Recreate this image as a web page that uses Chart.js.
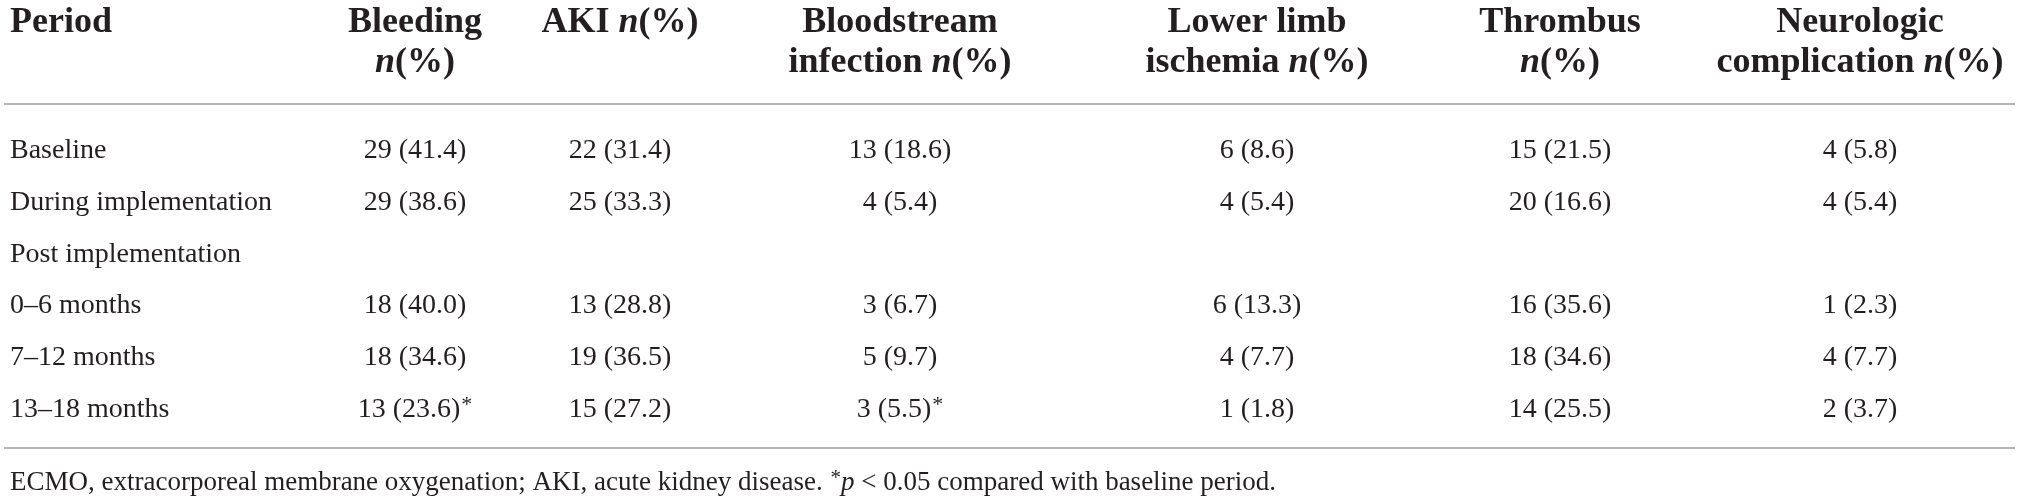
<!DOCTYPE html>
<html>
<head>
<meta charset="utf-8">
<script src="https://cdn.jsdelivr.net/npm/chart.js@4.4.1/dist/chart.umd.min.js"></script>
<style>
  html, body { margin: 0; padding: 0; background: #ffffff; }
  #wrap { width: 2019px; height: 502px; }
</style>
</head>
<body>
<div id="wrap"><canvas id="c" width="2019" height="502"></canvas></div>
<script>
// ---------- DATA ----------
const periods = ['Baseline', 'During implementation', 'Post implementation', '0–6 months', '7–12 months', '13–18 months'];
const columnTitles = [
  [[{t: 'Period'}]],
  [[{t: 'Bleeding'}], [{t: 'n', i: true}, {t: '(%)'}]],
  [[{t: 'AKI '}, {t: 'n', i: true}, {t: '(%)'}]],
  [[{t: 'Bloodstream'}], [{t: 'infection '}, {t: 'n', i: true}, {t: '(%)'}]],
  [[{t: 'Lower limb'}], [{t: 'ischemia '}, {t: 'n', i: true}, {t: '(%)'}]],
  [[{t: 'Thrombus'}], [{t: 'n', i: true}, {t: '(%)'}]],
  [[{t: 'Neurologic'}], [{t: 'complication '}, {t: 'n', i: true}, {t: '(%)'}]]
];
const bleedingN   = [29, 29, null, 18, 18, 13];
const bleedingPct = [41.4, 38.6, null, 40.0, 34.6, 23.6];
const bleedingSig = [false, false, false, false, false, true];
const akiN        = [22, 25, null, 13, 19, 15];
const akiPct      = [31.4, 33.3, null, 28.8, 36.5, 27.2];
const akiSig      = [false, false, false, false, false, false];
const bsiN        = [13, 4, null, 3, 5, 3];
const bsiPct      = [18.6, 5.4, null, 6.7, 9.7, 5.5];
const bsiSig      = [false, false, false, false, false, true];
const limbN       = [6, 4, null, 6, 4, 1];
const limbPct     = [8.6, 5.4, null, 13.3, 7.7, 1.8];
const limbSig     = [false, false, false, false, false, false];
const thrombusN   = [15, 20, null, 16, 18, 14];
const thrombusPct = [21.5, 16.6, null, 35.6, 34.6, 25.5];
const thrombusSig = [false, false, false, false, false, false];
const neuroN      = [4, 4, null, 1, 4, 2];
const neuroPct    = [5.8, 5.4, null, 2.3, 7.7, 3.7];
const neuroSig    = [false, false, false, false, false, false];
const footnoteRuns = [
  {t: 'ECMO, extracorporeal membrane oxygenation; AKI, acute kidney disease. '},
  {t: '*', sup: true}, {t: 'p', i: true},
  {t: ' < 0.05 compared with baseline period.'}
];

// ---------- LAYOUT / STYLE ----------
const W = 2019, H = 502;
const COL_X = [10, 415, 620, 900, 1257, 1560, 1860];   // column anchors (table units = px)
const TEXT = '#231f20';
const RULE = '#b5b5b5';
const SERIF = '"Liberation Serif", "DejaVu Serif", serif';
const HEAD_SIZE = 36, BODY_SIZE = 28, FOOT_SIZE = 27;

const valueCols = [
  [bleedingN, bleedingPct, bleedingSig],
  [akiN, akiPct, akiSig],
  [bsiN, bsiPct, bsiSig],
  [limbN, limbPct, limbSig],
  [thrombusN, thrombusPct, thrombusSig],
  [neuroN, neuroPct, neuroSig]
];

function fontFor(run, size, bold) {
  return (run.i ? 'italic ' : '') + (bold ? 'bold ' : '') + size + 'px ' + SERIF;
}
function drawRuns(ctx, runs, x, y, align, size, bold) {
  const supSize = Math.round(size * 0.78);
  let total = 0;
  const widths = runs.map(r => {
    ctx.font = fontFor(r, r.sup ? supSize : size, bold);
    const w = ctx.measureText(r.t).width + (r.sup ? 1 : 0);
    total += w;
    return w;
  });
  let cx = align === 'center' ? x - total / 2 : x;
  ctx.textAlign = 'left';
  ctx.textBaseline = 'alphabetic';
  runs.forEach((r, k) => {
    ctx.font = fontFor(r, r.sup ? supSize : size, bold);
    ctx.fillText(r.t, cx + (r.sup ? 1 : 0), r.sup ? y - size * 0.22 : y);
    cx += widths[k];
  });
}

// datasets: one per column, a point for each filled cell
const datasets = [];
datasets.push({
  label: 'Period', kind: 'period',
  data: periods.map(p => ({x: COL_X[0], y: p, runs: [{t: p}]}))
});
valueCols.forEach((col, c) => {
  const [n, pct, sig] = col;
  const pts = [];
  periods.forEach((p, r) => {
    if (n[r] === null) return;
    const runs = [{t: n[r] + ' (' + pct[r].toFixed(1) + ')'}];
    if (sig[r]) runs.push({t: '*', sup: true});
    pts.push({x: COL_X[c + 1], y: p, runs});
  });
  datasets.push({label: 'col' + c, kind: 'value', data: pts});
});

const tablePlugin = {
  id: 'tableText',
  afterDatasetsDraw(chart) {
    const ctx = chart.ctx;
    const area = chart.chartArea;
    const xs = chart.scales.x;
    ctx.save();
    ctx.fillStyle = TEXT;
    // header
    columnTitles.forEach((lines, c) => {
      const px = xs.getPixelForValue(COL_X[c]);
      lines.forEach((runs, li) => {
        drawRuns(ctx, runs, px, area.top - 91 + li * 40, c === 0 ? 'left' : 'center', HEAD_SIZE, true);
      });
    });
    // rules
    ctx.strokeStyle = RULE;
    ctx.lineWidth = 2;
    [area.top - 19, area.bottom + 14].forEach(yy => {
      ctx.beginPath();
      ctx.moveTo(area.left + 4, yy);
      ctx.lineTo(area.right - 4, yy);
      ctx.stroke();
    });
    // body cells
    chart.data.datasets.forEach((ds, di) => {
      const meta = chart.getDatasetMeta(di);
      meta.data.forEach((el, k) => {
        const cell = ds.data[k];
        drawRuns(ctx, cell.runs, el.x, el.y + 9, ds.kind === 'period' ? 'left' : 'center', BODY_SIZE, false);
      });
    });
    // footnote
    drawRuns(ctx, footnoteRuns, xs.getPixelForValue(COL_X[0]), area.bottom + 56, 'left', FOOT_SIZE, false);
    ctx.restore();
  }
};

new Chart(document.getElementById('c'), {
  type: 'scatter',
  data: {datasets},
  options: {
    responsive: false,
    animation: false,
    devicePixelRatio: 1,
    layout: {padding: {top: 123, bottom: 68, left: 0, right: 0}},
    plugins: {legend: {display: false}, tooltip: {enabled: false}},
    elements: {point: {radius: 0, hoverRadius: 0}},
    scales: {
      x: {type: 'linear', min: 0, max: W, display: false},
      y: {type: 'category', labels: periods, offset: true, display: false}
    }
  },
  plugins: [tablePlugin]
});
</script>
</body>
</html>
